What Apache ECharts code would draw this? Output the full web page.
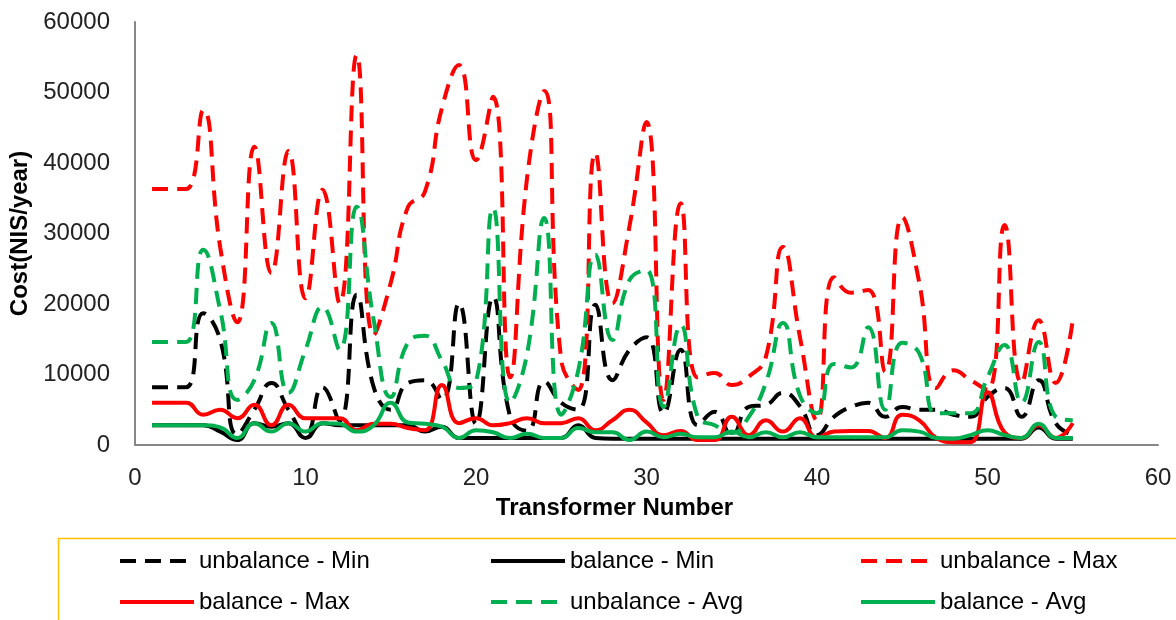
<!DOCTYPE html>
<html>
<head>
<meta charset="utf-8">
<script src="https://cdn.jsdelivr.net/npm/echarts@6/dist/echarts.min.js"></script>
<style>
  html, body { margin: 0; padding: 0; background: #fff; }
  #main { width: 1176px; height: 620px; }
</style>
</head>
<body>
<div id="main"></div>
<script>
// transformer numbers
var transformers = [1, 2, 3, 4, 5, 6, 7, 8, 9, 10, 11, 12, 13, 14, 15, 16, 17, 18, 19, 20,
  21, 22, 23, 24, 25, 26, 27, 28, 29, 30, 31, 32, 33, 34, 35, 36, 37, 38, 39, 40,
  41, 42, 43, 44, 45, 46, 47, 48, 49, 50, 51, 52, 53, 54, 55];

var unbalanceMin = [8200, 8200, 8200, 18700, 14900, 1500, 5000, 8800, 5000, 1500,
  8200, 3500, 21300, 8200, 5000, 8800, 9200, 6400, 20100, 3000,
  21000, 4000, 2000, 9000, 6000, 5000, 19900, 9200, 13500, 15300,
  4500, 13500, 2800, 4700, 1400, 5400, 5700, 7400, 5500, 1400,
  4000, 5400, 6000, 4000, 5400, 5000, 5000, 4300, 4000, 6800,
  8100, 4000, 9200, 3100, 1400];

var balanceMin = [2800, 2800, 2800, 2800, 1900, 700, 3100, 2600, 3100, 1000,
  3100, 2800, 2800, 2800, 2800, 2800, 1900, 2600, 1000, 1000,
  1000, 1000, 1000, 1000, 1000, 2800, 1000, 900, 900, 900,
  900, 900, 900, 900, 900, 900, 900, 900, 900, 900,
  900, 900, 900, 900, 900, 900, 900, 900, 900, 900,
  900, 900, 2500, 900, 900];

var unbalanceMax = [36300, 36300, 36300, 47500, 28000, 17400, 42300, 24400, 41700, 20800,
  36200, 20100, 55300, 15600, 23000, 33700, 35900, 47800, 53900, 40400,
  49400, 9600, 38000, 50200, 12000, 7800, 41400, 20100, 31000, 45800,
  6400, 34300, 9600, 10200, 8500, 9700, 12500, 28100, 15300, 3500,
  23800, 21600, 22000, 10400, 32300, 23000, 8100, 10600, 9200, 7800,
  31200, 8800, 17700, 8800, 17700];

var balanceMax = [6000, 6000, 6000, 4300, 5000, 3800, 5700, 2800, 5700, 3800,
  3800, 3800, 2100, 3000, 3000, 2400, 2100, 8500, 3100, 3800,
  2800, 3100, 3800, 3100, 3100, 3800, 2100, 3500, 5000, 3200,
  1400, 2000, 700, 700, 4000, 1400, 3500, 1900, 3800, 1100,
  1900, 2000, 2000, 1000, 4300, 3500, 1000, 400, 400, 7500,
  1800, 1000, 2800, 1000, 3100];

var unbalanceAvg = [14600, 14600, 14600, 27700, 19100, 6400, 9200, 17300, 7400, 13500,
  19600, 13500, 33800, 17700, 6800, 14500, 15500, 12000, 8100, 9000,
  33600, 6000, 13000, 32200, 4300, 10600, 27000, 14900, 23400, 24800,
  5400, 17000, 4000, 2800, 1700, 4000, 8800, 17300, 7000, 4500,
  11500, 11000, 16700, 5000, 14500, 13000, 4500, 4500, 4500, 9600,
  14200, 6000, 14600, 4000, 3500];

var balanceAvg = [2800, 2800, 2800, 2800, 2500, 1000, 3100, 1900, 3100, 1900,
  3100, 3000, 1900, 2800, 6000, 3200, 3000, 2600, 1000, 2100,
  1800, 1000, 1600, 1000, 1000, 2400, 1800, 1800, 700, 1900,
  1100, 1600, 1100, 1100, 1900, 1100, 1800, 1100, 1800, 1100,
  1100, 1100, 1100, 1100, 2100, 1900, 1000, 900, 1400, 2100,
  1400, 1000, 3000, 1000, 1000];

var xTicks = { min: 0, max: 60, interval: 10 };
var yTicks = { min: 0, max: 60000, interval: 10000 };

function pairs(values) {
  return transformers.map(function (t, i) { return [t, values[i]]; });
}

var FONT = '"Liberation Sans", Arial, sans-serif';
var DASH = [16, 9];

function line(name, values, color, dashed) {
  return {
    name: name,
    type: 'line',
    data: pairs(values),
    smooth: 0.5,
    showSymbol: false,
    symbol: 'none',
    lineStyle: { color: color, width: 4, type: dashed ? DASH : 'solid' },
    itemStyle: { color: color },
    emphasis: { disabled: true }
  };
}

function legendAt(name, left, top) {
  return {
    data: [name],
    left: left,
    top: top,
    padding: 0,
    itemWidth: 74,
    itemHeight: 14,
    selectedMode: false,
    itemStyle: { opacity: 0 },
    lineStyle: { width: 4 },
    textStyle: { fontFamily: FONT, fontSize: 24, color: '#000' }
  };
}

var chart = echarts.init(document.getElementById('main'));

chart.setOption({
  animation: false,
  grid: { left: 133, right: 18, top: 22, bottom: 175, containLabel: false },
  legend: [
    legendAt('unbalance - Min', 118, 549),
    legendAt('balance - Min', 489, 549),
    legendAt('unbalance - Max', 859, 549),
    legendAt('balance - Max', 118, 590),
    legendAt('unbalance - Avg', 489, 590),
    legendAt('balance - Avg', 859, 590)
  ],
  graphic: [{
    type: 'rect',
    shape: { x: 58.5, y: 538.5, width: 1140, height: 120 },
    style: { fill: 'none', stroke: '#FFC000', lineWidth: 1.5 },
    silent: true,
    z: -1
  }],
  xAxis: {
    type: 'value',
    min: xTicks.min,
    max: xTicks.max,
    interval: xTicks.interval,
    name: 'Transformer Number',
    nameLocation: 'middle',
    nameGap: 51,
    nameTextStyle: { fontFamily: FONT, fontSize: 24, fontWeight: 'bold', color: '#000', padding: [0, 64, 0, 0] },
    axisLine: { show: true, lineStyle: { color: '#868686', width: 2 } },
    axisTick: { show: false },
    splitLine: { show: false },
    axisLabel: { fontFamily: FONT, fontSize: 24, color: '#222', margin: 21 }
  },
  yAxis: {
    type: 'value',
    min: yTicks.min,
    max: yTicks.max,
    interval: yTicks.interval,
    name: 'Cost(NIS/year)',
    nameLocation: 'middle',
    nameGap: 103,
    nameTextStyle: { fontFamily: FONT, fontSize: 24, fontWeight: 'bold', color: '#000' },
    axisLine: { show: true, lineStyle: { color: '#868686', width: 2 } },
    axisTick: { show: false },
    splitLine: { show: false },
    axisLabel: {
      fontFamily: FONT, fontSize: 24, color: '#222', margin: 25,
      formatter: function (v) { return String(v); }
    }
  },
  series: [
    line('unbalance - Min', unbalanceMin, '#000000', true),
    line('balance - Min', balanceMin, '#000000', false),
    line('unbalance - Max', unbalanceMax, '#FF0000', true),
    line('balance - Max', balanceMax, '#FF0000', false),
    line('unbalance - Avg', unbalanceAvg, '#00B050', true),
    line('balance - Avg', balanceAvg, '#00B050', false)
  ]
});
</script>
</body>
</html>
